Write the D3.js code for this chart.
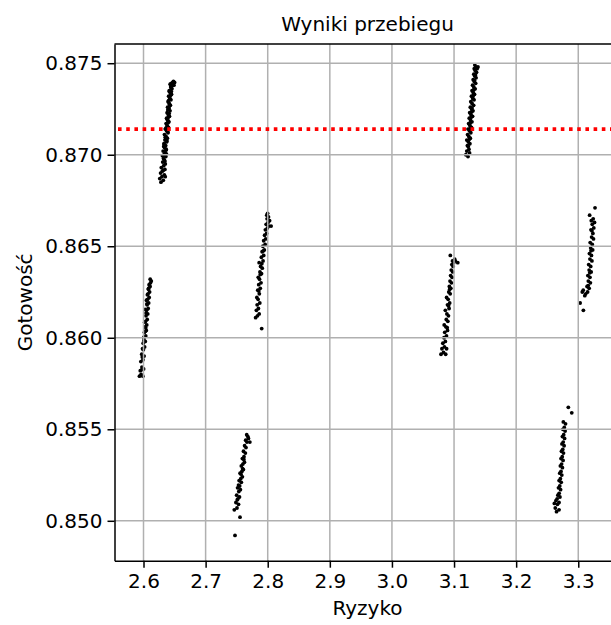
<!DOCTYPE html>
<html>
<head>
<meta charset="utf-8">
<script src="https://cdn.jsdelivr.net/npm/d3@7/dist/d3.min.js"></script>
<style>
  html, body { margin: 0; padding: 0; background: #fff; }
  svg { display: block; overflow: hidden; }
  text { font-family: "DejaVu Sans", sans-serif; fill: #000; }
</style>
</head>
<body>
<svg id="chart" width="611" height="625"></svg>
<script>
// Axis ticks
const xTicks = [2.6, 2.7, 2.8, 2.9, 3.0, 3.1, 3.2, 3.3];
const yTicks = [0.850, 0.855, 0.860, 0.865, 0.870, 0.875];

// Reference level of readiness
const threshold = 0.8714;

// Simulation runs: [ryzyko, gotowość]
const run1 = [[2.5935,0.8579],[2.5962,0.8580],[2.5990,0.8579],[2.5948,0.8582],[2.5975,0.8584],[2.6002,0.8583],[2.5958,0.8587],[2.5991,0.8588],[2.5972,0.8591],[2.6010,0.8590],[2.5985,0.8594],[2.6018,0.8595],[2.5995,0.8597],[2.6028,0.8598],[2.6005,0.8600],[2.6036,0.8601],[2.6015,0.8603],[2.6044,0.8604],[2.6022,0.8606],[2.6052,0.8607],[2.6033,0.8609],[2.6060,0.8610],[2.6040,0.8612],[2.6068,0.8613],[2.6049,0.8615],[2.6075,0.8616],[2.6058,0.8618],[2.6083,0.8619],[2.6066,0.8621],[2.6091,0.8622],[2.6073,0.8624],[2.6098,0.8625],[2.6082,0.8627],[2.6106,0.8628],[2.6090,0.8629],[2.6113,0.8630],[2.6125,0.8631],[2.6108,0.8632],[2.6019,0.86085],[2.6030,0.86035],[2.6008,0.85985],[2.6041,0.86135],[2.6055,0.86185],[2.6063,0.86235],[2.6079,0.86265],[2.5998,0.85935],[2.5980,0.85895],[2.6026,0.86155],[2.6047,0.86205],[2.5969,0.85825],[2.6036,0.86055],[2.6012,0.86005]];

const run2 = [[2.6281,0.8685],[2.6318,0.8686],[2.6296,0.8688],[2.6335,0.8689],[2.6302,0.8691],[2.6344,0.8692],[2.6287,0.8693],[2.6326,0.8694],[2.6351,0.8695],[2.6309,0.8696],[2.6337,0.8697],[2.6322,0.8698],[2.6359,0.8699],[2.6331,0.8700],[2.6348,0.8701],[2.6316,0.8702],[2.6365,0.8703],[2.6339,0.8704],[2.6357,0.8705],[2.6329,0.8706],[2.6371,0.8707],[2.6346,0.8708],[2.6384,0.8709],[2.6362,0.8710],[2.6338,0.8711],[2.6395,0.8712],[2.6373,0.8713],[2.6351,0.8714],[2.6402,0.8715],[2.6381,0.8716],[2.6364,0.8717],[2.6410,0.8718],[2.6389,0.8719],[2.6372,0.8720],[2.6418,0.8721],[2.6398,0.8722],[2.6380,0.8723],[2.6427,0.8724],[2.6405,0.8725],[2.6388,0.8726],[2.6433,0.8727],[2.6414,0.8728],[2.6396,0.8729],[2.6442,0.8730],[2.6421,0.8731],[2.6405,0.8732],[2.6451,0.8733],[2.6430,0.8734],[2.6414,0.8735],[2.6458,0.8736],[2.6438,0.8737],[2.6466,0.8738],[2.6447,0.8739],[2.6482,0.8740],[2.6342,0.86965],[2.6305,0.86995],[2.6362,0.87025],[2.6327,0.87045],[2.6378,0.87075],[2.6350,0.87095],[2.6390,0.87125],[2.6360,0.87145],[2.6396,0.87175],[2.6378,0.87195],[2.6413,0.87225],[2.6392,0.87245],[2.6420,0.87275],[2.6403,0.87295],[2.6437,0.87325],[2.6416,0.87345],[2.6446,0.87365],[2.6429,0.87385],[2.6470,0.87395],[2.6455,0.87375],[2.6367,0.87005],[2.6335,0.87055],[2.6383,0.87155],[2.6400,0.87205],[2.6412,0.87255],[2.6428,0.87305],[2.6448,0.87345],[2.6356,0.87085],[2.6371,0.87135],[2.6393,0.87185],[2.6262,0.8687],[2.6350,0.8688],[2.6275,0.8690],[2.6318,0.86915],[2.6490,0.8738],[2.6500,0.87395]];

const run3 = [[2.7473,0.8492],[2.7554,0.8502],[2.7462,0.8506],[2.7505,0.8507],[2.7530,0.8509],[2.7488,0.8510],[2.7520,0.8512],[2.7545,0.8513],[2.7500,0.8514],[2.7535,0.8516],[2.7560,0.8517],[2.7515,0.8518],[2.7548,0.8519],[2.7575,0.8521],[2.7540,0.8522],[2.7566,0.8523],[2.7592,0.8524],[2.7555,0.8526],[2.7584,0.8527],[2.7608,0.8528],[2.7575,0.8530],[2.7600,0.8531],[2.7625,0.8532],[2.7592,0.8534],[2.7618,0.8535],[2.7640,0.8537],[2.7610,0.8538],[2.7650,0.8540],[2.7628,0.8541],[2.7665,0.8543],[2.7645,0.8544],[2.7690,0.8545],[2.7662,0.8547],[2.7712,0.8543],[2.7680,0.8546],[2.7570,0.85255],[2.7530,0.85195],[2.7596,0.85285],[2.7510,0.85115],[2.7615,0.85335]];

const run4 = [[2.7903,0.8605],[2.7805,0.8611],[2.7835,0.8612],[2.7862,0.8613],[2.7818,0.8615],[2.7850,0.8616],[2.7830,0.8618],[2.7872,0.8619],[2.7845,0.8621],[2.7825,0.8622],[2.7865,0.8624],[2.7840,0.8626],[2.7880,0.8627],[2.7855,0.8629],[2.7892,0.8630],[2.7868,0.8632],[2.7848,0.8633],[2.7900,0.8635],[2.7875,0.8636],[2.7912,0.8638],[2.7885,0.8639],[2.7862,0.8641],[2.7925,0.8642],[2.7898,0.8644],[2.7935,0.8645],[2.7910,0.8647],[2.7945,0.8648],[2.7922,0.8650],[2.7958,0.8651],[2.7935,0.8653],[2.7968,0.8654],[2.7950,0.8656],[2.7982,0.8657],[2.7962,0.8659],[2.7995,0.8660],[2.8020,0.8661],[2.8055,0.8661],[2.7975,0.8662],[2.8005,0.8663],[2.7990,0.8665],[2.8030,0.8664],[2.7985,0.8667],[2.8012,0.8666],[2.7998,0.8668],[2.7880,0.86345],[2.7905,0.86405],[2.7930,0.86475],[2.7856,0.86255]];

const run5 = [[3.0790,0.8591],[3.0830,0.8592],[3.0865,0.8591],[3.0805,0.8594],[3.0845,0.8595],[3.0880,0.8594],[3.0820,0.8597],[3.0860,0.8598],[3.0838,0.8600],[3.0878,0.8601],[3.0850,0.8603],[3.0895,0.8604],[3.0868,0.8606],[3.0842,0.8607],[3.0900,0.8609],[3.0875,0.8610],[3.0910,0.8612],[3.0885,0.8613],[3.0860,0.8615],[3.0920,0.8616],[3.0895,0.8618],[3.0930,0.8619],[3.0905,0.8621],[3.0880,0.8622],[3.0938,0.8624],[3.0915,0.8625],[3.0948,0.8627],[3.0925,0.8628],[3.0958,0.8630],[3.0935,0.8631],[3.0968,0.8633],[3.0945,0.8634],[3.0978,0.8636],[3.0955,0.8637],[3.0985,0.8639],[3.0965,0.8640],[3.0995,0.8641],[3.0975,0.8642],[3.1010,0.8643],[3.0940,0.8645],[3.1020,0.8642],[3.1060,0.8641],[3.0890,0.86055],[3.0912,0.86175],[3.0930,0.86265]];

const run6 = [[3.1190,0.8700],[3.1225,0.8699],[3.1250,0.8701],[3.1205,0.8702],[3.1240,0.8703],[3.1215,0.8705],[3.1255,0.8706],[3.1230,0.8707],[3.1205,0.8708],[3.1262,0.8709],[3.1238,0.8710],[3.1218,0.8711],[3.1270,0.8712],[3.1248,0.8713],[3.1225,0.8714],[3.1280,0.8715],[3.1255,0.8716],[3.1235,0.8717],[3.1288,0.8718],[3.1265,0.8719],[3.1245,0.8720],[3.1298,0.8721],[3.1272,0.8722],[3.1252,0.8723],[3.1305,0.8724],[3.1282,0.8725],[3.1262,0.8726],[3.1315,0.8727],[3.1290,0.8728],[3.1270,0.8729],[3.1322,0.8730],[3.1300,0.8731],[3.1280,0.8732],[3.1330,0.8733],[3.1308,0.8734],[3.1290,0.8735],[3.1340,0.8736],[3.1318,0.8737],[3.1298,0.8738],[3.1348,0.8739],[3.1325,0.8740],[3.1308,0.8741],[3.1355,0.8742],[3.1332,0.8743],[3.1318,0.8744],[3.1362,0.8745],[3.1340,0.8746],[3.1325,0.8747],[3.1372,0.8747],[3.1350,0.8748],[3.1385,0.8748],[3.1335,0.8749],[3.1228,0.87045],[3.1246,0.87085],[3.1260,0.87145],[3.1275,0.87205],[3.1290,0.87255],[3.1305,0.87305],[3.1318,0.87355],[3.1330,0.87405],[3.1345,0.87435],[3.1262,0.87175],[3.1285,0.87235],[3.1312,0.87325]];

const run7 = [[3.2840,0.8562],[3.2895,0.8559],[3.2760,0.8554],[3.2795,0.8553],[3.2775,0.8551],[3.2752,0.8550],[3.2788,0.8549],[3.2765,0.8547],[3.2745,0.8546],[3.2780,0.8545],[3.2758,0.8543],[3.2738,0.8542],[3.2772,0.8541],[3.2750,0.8539],[3.2730,0.8538],[3.2762,0.8537],[3.2742,0.8535],[3.2722,0.8534],[3.2755,0.8533],[3.2732,0.8531],[3.2712,0.8530],[3.2745,0.8529],[3.2722,0.8527],[3.2702,0.8526],[3.2735,0.8525],[3.2712,0.8523],[3.2692,0.8522],[3.2725,0.8521],[3.2702,0.8519],[3.2682,0.8518],[3.2715,0.8517],[3.2692,0.8515],[3.2672,0.8514],[3.2705,0.8513],[3.2660,0.8512],[3.2640,0.8511],[3.2690,0.8510],[3.2615,0.85095],[3.2665,0.8509],[3.2630,0.8507],[3.2690,0.8506],[3.2650,0.8505]];

const run8 = [[3.3270,0.8671],[3.3183,0.8667],[3.3210,0.8664],[3.3240,0.8665],[3.3262,0.8663],[3.3225,0.8662],[3.3250,0.8660],[3.3205,0.8659],[3.3235,0.8657],[3.3215,0.8655],[3.3245,0.8654],[3.3192,0.8652],[3.3225,0.8651],[3.3200,0.8649],[3.3232,0.8648],[3.3180,0.8646],[3.3212,0.8645],[3.3188,0.8643],[3.3220,0.8642],[3.3168,0.8640],[3.3200,0.8639],[3.3175,0.8637],[3.3208,0.8636],[3.3155,0.8634],[3.3188,0.8633],[3.3162,0.8631],[3.3195,0.8630],[3.3142,0.8628],[3.3175,0.8627],[3.3150,0.8625],[3.3120,0.8624],[3.3080,0.8626],[3.3105,0.8623],[3.3065,0.8625],[3.3030,0.8619],[3.3082,0.8615],[3.3185,0.86355],[3.3205,0.86475],[3.3220,0.86585],[3.3160,0.86285]];

const runs = [run1, run2, run3, run4, run5, run6, run7, run8];

// Plot frame (the right edge lies just past the visible canvas)
const plotLeft = 114.5, plotTop = 44, plotRight = 620.5, plotBottom = 560.7;
const svg = d3.select("#chart");

const x = d3.scaleLinear().domain([2.5533, 3.368]).range([plotLeft, plotRight]);
const y = d3.scaleLinear().domain([0.84782, 0.87605]).range([plotBottom, plotTop]);

// Scatter points
const pts = svg.append("g").attr("class", "points");
runs.forEach(run => {
  pts.append("g").selectAll("circle")
    .data(run)
    .enter()
    .append("circle")
    .attr("cx", d => x(d[0]))
    .attr("cy", d => y(d[1]))
    .attr("r", 1.9)
    .attr("fill", "#000");
});

// Grid lines
const grid = svg.append("g").attr("class", "grid")
  .attr("stroke", "#b0b0b0").attr("stroke-width", 1.5);
grid.selectAll(".gx").data(xTicks).enter().append("line")
  .attr("class", "gx")
  .attr("x1", d => x(d)).attr("x2", d => x(d))
  .attr("y1", plotTop).attr("y2", plotBottom);
grid.selectAll(".gy").data(yTicks).enter().append("line")
  .attr("class", "gy")
  .attr("x1", plotLeft).attr("x2", plotRight)
  .attr("y1", d => y(d)).attr("y2", d => y(d));

// Threshold line
svg.append("line")
  .attr("x1", plotLeft).attr("x2", plotRight)
  .attr("y1", y(threshold)).attr("y2", y(threshold))
  .attr("stroke", "#ff0000")
  .attr("stroke-width", 3.6)
  .attr("stroke-dasharray", "3.6 4.6")
  .attr("stroke-dashoffset", 4.7);

// Axes
const xAxis = d3.axisBottom(x).tickValues(xTicks).tickFormat(d3.format(".1f"))
  .tickSize(7).tickSizeOuter(0).tickPadding(6);
const yAxis = d3.axisLeft(y).tickValues(yTicks).tickFormat(d3.format(".3f"))
  .tickSize(7).tickSizeOuter(0).tickPadding(5);

const gx = svg.append("g").attr("transform", `translate(0,${plotBottom})`).call(xAxis);
const gy = svg.append("g").attr("transform", `translate(${plotLeft},0)`).call(yAxis);
[gx, gy].forEach(g => {
  g.selectAll("path.domain").attr("stroke", "#000").attr("stroke-width", 1.5);
  g.selectAll(".tick line").attr("stroke", "#000").attr("stroke-width", 1.5);
  g.selectAll(".tick text").attr("font-size", "20px")
    .attr("font-family", "DejaVu Sans, sans-serif").attr("fill", "#000");
});

// Top and right spines
svg.append("line").attr("x1", plotLeft).attr("x2", plotRight).attr("y1", plotTop).attr("y2", plotTop)
  .attr("stroke", "#000").attr("stroke-width", 1.5);
svg.append("line").attr("x1", plotRight).attr("x2", plotRight).attr("y1", plotTop).attr("y2", plotBottom)
  .attr("stroke", "#000").attr("stroke-width", 1.5);

// Title and axis labels
svg.append("text")
  .attr("x", (plotLeft + plotRight) / 2).attr("y", 31)
  .attr("text-anchor", "middle").attr("font-size", "20px")
  .text("Wyniki przebiegu");

svg.append("text")
  .attr("x", (plotLeft + plotRight) / 2).attr("y", 615)
  .attr("text-anchor", "middle").attr("font-size", "20px")
  .text("Ryzyko");

svg.append("text")
  .attr("transform", `translate(32,${(plotTop + plotBottom) / 2}) rotate(-90)`)
  .attr("text-anchor", "middle").attr("font-size", "20px")
  .text("Gotowość");
</script>
</body>
</html>
